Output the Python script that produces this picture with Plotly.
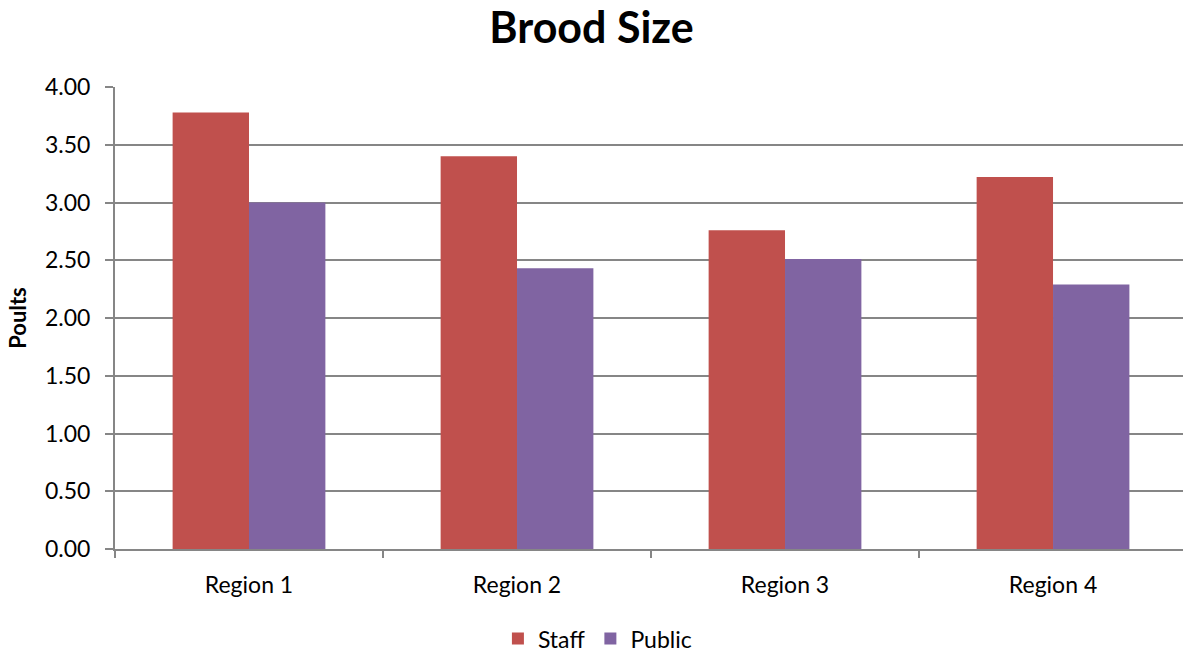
import plotly.graph_objects as go

# Average brood size (poults) by region, staff vs public observations
regions = ["Region 1", "Region 2", "Region 3", "Region 4"]
staff = [3.78, 3.40, 2.76, 3.22]
public = [3.00, 2.43, 2.51, 2.29]
y_ticks = [0, 0.5, 1.0, 1.5, 2.0, 2.5, 3.0, 3.5, 4.0]

FONT = "Lato, Carlito, Calibri, sans-serif"
GRID = "#868686"

fig = go.Figure()
fig.add_trace(go.Bar(name="Staff", x=regions, y=staff,
                     marker=dict(color="#C0504D", line=dict(width=0))))
fig.add_trace(go.Bar(name="Public", x=regions, y=public,
                     marker=dict(color="#8064A2", line=dict(width=0))))

fig.update_layout(
    width=1183, height=655,
    margin=dict(l=115, r=0, t=87, b=106),
    paper_bgcolor="white", plot_bgcolor="white",
    barmode="group", bargap=0.43, bargroupgap=0,
    font=dict(family=FONT, color="black", size=23),
    title=dict(text="<b>Brood Size</b>", x=0.5, xanchor="center",
               y=0.957, yanchor="middle",
               font=dict(family=FONT, size=43, color="black")),
    showlegend=True,
    legend=dict(orientation="h", xref="container", x=0.505, xanchor="center",
                yref="container", y=0.025, yanchor="middle",
                font=dict(size=23), traceorder="normal"),
)

fig.update_yaxes(
    range=[0, 4], tickvals=y_ticks,
    ticktext=[f"{v:.2f}" for v in y_ticks],
    showgrid=True, gridcolor=GRID, gridwidth=2,
    showline=True, linecolor=GRID, linewidth=2,
    ticks="outside", ticklen=8, tickcolor=GRID, tickwidth=2,
    tickfont=dict(size=23), ticklabelstandoff=10, zeroline=False,
    title=dict(text="<b>Poults</b>", font=dict(size=22), standoff=12),
)
fig.update_xaxes(
    range=[-0.5, 3.485],
    showline=True, linecolor=GRID, linewidth=2,
    ticks="outside", tickson="boundaries", ticklen=7,
    tickcolor=GRID, tickwidth=2,
    tickfont=dict(size=23), ticklabelstandoff=14, showgrid=False,
)

fig.write_html("out.html")
